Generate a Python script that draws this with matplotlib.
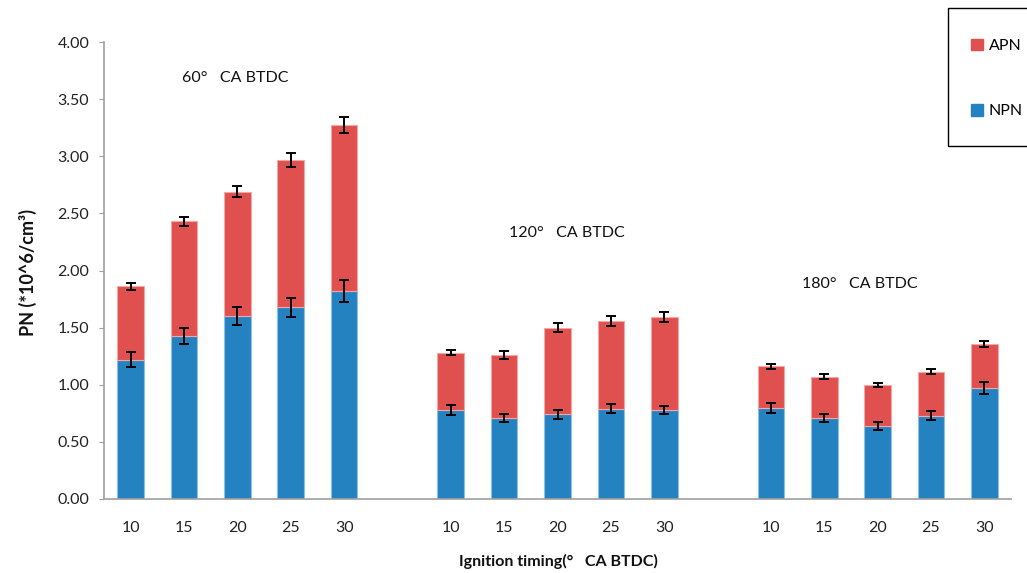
import matplotlib.pyplot as plt
from matplotlib.patches import Patch, Rectangle
import numpy as np

plt.rcParams['font.family'] = ['Lato', 'DejaVu Sans']

# ignition timings, three injection timing groups
timings = ["10", "15", "20", "25", "30"]
groups = ["60°   CA BTDC", "120°   CA BTDC", "180°   CA BTDC"]

npn = [1.22, 1.43, 1.60, 1.68, 1.82,
       0.78, 0.71, 0.74, 0.79, 0.78,
       0.80, 0.71, 0.64, 0.73, 0.97]
total = [1.86, 2.43, 2.69, 2.97, 3.27,
         1.28, 1.26, 1.50, 1.555, 1.59,
         1.16, 1.07, 1.00, 1.115, 1.36]
npn_err = [0.065, 0.07, 0.077, 0.083, 0.095,
           0.042, 0.038, 0.038, 0.041, 0.036,
           0.044, 0.036, 0.032, 0.036, 0.055]
total_err = [0.028, 0.04, 0.05, 0.06, 0.07,
             0.023, 0.032, 0.042, 0.044, 0.044,
             0.02, 0.02, 0.019, 0.019, 0.026]

RED = "#E0504E"
BLUE = "#2582C1"

# 5 bars per group with one empty slot between groups
x = np.concatenate([np.arange(5) + 6 * g for g in range(3)])
npn = np.array(npn)
apn = np.array(total) - npn

fig = plt.figure(figsize=(10.27, 5.73), dpi=100)
ax = fig.add_axes([104 / 1027, 1 - 499 / 573, 907 / 1027, 457 / 573])

ax.bar(x, npn, width=0.5, color=BLUE, edgecolor="#8CC0E4", linewidth=0.8)
ax.bar(x, apn, width=0.5, bottom=npn, color=RED, edgecolor="#F2A8A6", linewidth=0.8)
ax.errorbar(x, npn, yerr=npn_err, fmt="none", ecolor="black", elinewidth=1.4,
            capsize=3.5, capthick=1.4)
ax.errorbar(x, total, yerr=total_err, fmt="none", ecolor="black", elinewidth=1.4,
            capsize=3.5, capthick=1.4)

ax.set_xlim(-0.5, 16.5)
ax.set_ylim(0, 4)
ax.set_yticks(np.arange(0, 4.01, 0.5))
ax.set_yticklabels([f"{v:.2f}" for v in np.arange(0, 4.01, 0.5)])
ax.set_xticks(x)
ax.set_xticklabels(timings * 3)

for s in ["top", "right"]:
    ax.spines[s].set_visible(False)
for s in ["left", "bottom"]:
    ax.spines[s].set_color("#A0A0A0")
    ax.spines[s].set_linewidth(1.2)
ax.tick_params(axis="y", length=3.6, color="#A0A0A0", pad=7, labelsize=11.5, labelcolor="#222222")
ax.tick_params(axis="x", length=0, pad=16, labelsize=11.5, labelcolor="#222222")

# group captions
ax.text(0.96, 3.685, groups[0], fontsize=11.5, ha="left", va="center", color="#111111")
ax.text(7.1, 2.33, groups[1], fontsize=11.5, ha="left", va="center", color="#111111")
ax.text(12.58, 1.88, groups[2], fontsize=11.5, ha="left", va="center", color="#111111")

fig.text(28 / 1027, 1 - 272 / 573, "PN (*10^6/cm³)", rotation=90, ha="center", va="center",
         fontsize=13, fontweight="bold", color="#111111")
fig.text(558 / 1027, 1 - 561 / 573, "Ignition timing(°   CA BTDC)", ha="center", va="center",
         fontsize=11.5, fontweight="bold", color="#111111")

# legend box runs off the right edge
fig.patches.append(Rectangle((948 / 1027, 1 - 146 / 573), 0.2, 138 / 573,
                             transform=fig.transFigure, fill=False,
                             edgecolor="black", linewidth=1.0))
handles = [Patch(color=RED), Patch(color=BLUE)]
fig.legend(handles, ["APN", "NPN"], loc="center left",
           bbox_to_anchor=(971 / 1027, 1 - 78.5 / 573), frameon=False,
           fontsize=11.5, handlelength=0.75, handleheight=0.75, handletextpad=0.35,
           labelspacing=3.2, borderpad=0, borderaxespad=0)

fig.savefig("out.png", dpi=100)
